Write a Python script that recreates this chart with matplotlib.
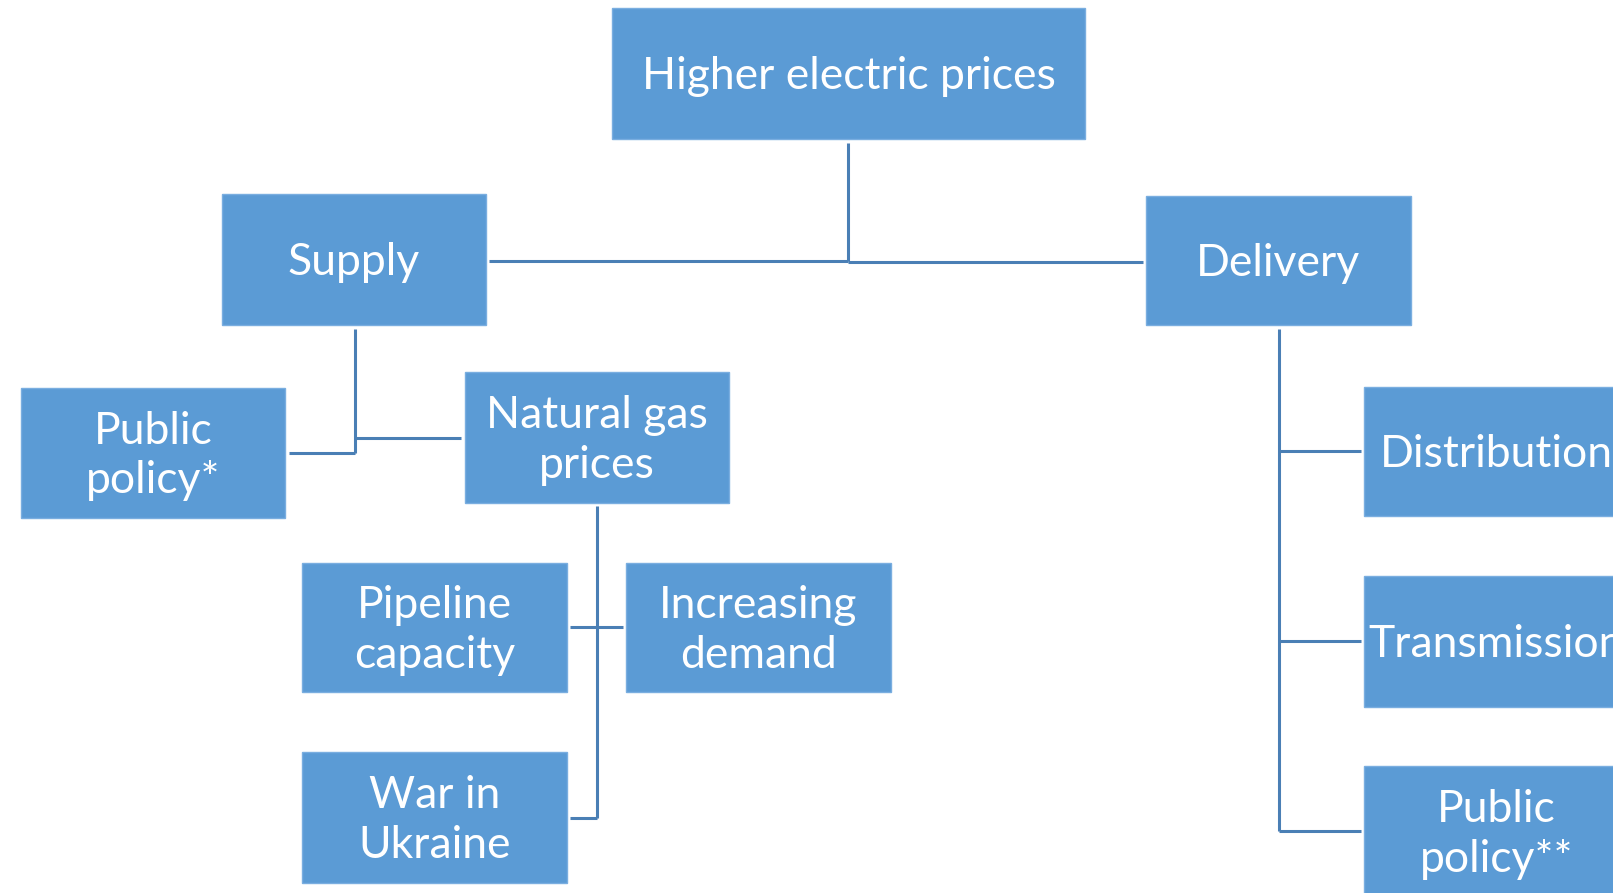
import matplotlib.pyplot as plt
from matplotlib.patches import Rectangle

# node labels
labels = ["Higher electric prices", "Supply", "Delivery", "Public\npolicy*",
          "Natural gas\nprices", "Pipeline\ncapacity", "Increasing\ndemand",
          "War in\nUkraine", "Distribution", "Transmission", "Public\npolicy**"]

# layout of the boxes in pixels: left, top, right, bottom
boxes = [(612, 8, 1085, 139),
         (222, 194, 486, 325),
         (1146, 196, 1411, 325),
         (21, 388, 285, 518),
         (465, 372, 729, 503),
         (302, 563, 567, 692),
         (626, 563, 891, 692),
         (302, 752, 567, 883),
         (1364, 387, 1629, 516),
         (1364, 576, 1629, 707),
         (1364, 766, 1629, 897)]

# connector segments (x0, y0, x1, y1)
links = [(848, 143, 848, 261),
         (489, 261, 848, 261), (848, 262, 1143, 262),
         (355, 329, 355, 453), (289, 453, 355, 453), (355, 438, 461, 438),
         (597, 506, 597, 818), (570, 627, 623, 627), (570, 818, 597, 818),
         (1279, 329, 1279, 831),
         (1279, 451, 1361, 451), (1279, 641, 1361, 641), (1279, 831, 1361, 831)]

box_color = "#5b9bd5"
line_color = "#4a7fb5"

fig = plt.figure(figsize=(16.13, 8.93), dpi=100)
ax = fig.add_axes([0, 0, 1, 1])
ax.set_xlim(0, 1613)
ax.set_ylim(893, 0)
ax.axis("off")

for x0, y0, x1, y1 in links:
    ax.plot([x0, x1], [y0, y1], color=line_color, lw=2.2, solid_capstyle="butt")

for lab, (l, t, r, b) in zip(labels, boxes):
    ax.add_patch(Rectangle((l, t), r - l, b - t, facecolor=box_color,
                           edgecolor="#7aaee0", lw=1))
    # text a bit below the box centre, like the original
    ax.text((l + r) / 2, (t + b) / 2 + 3, lab, color="white", fontsize=32,
            family="Lato", ha="center", va="center", linespacing=1.27)

plt.savefig("out.png", dpi=100)
